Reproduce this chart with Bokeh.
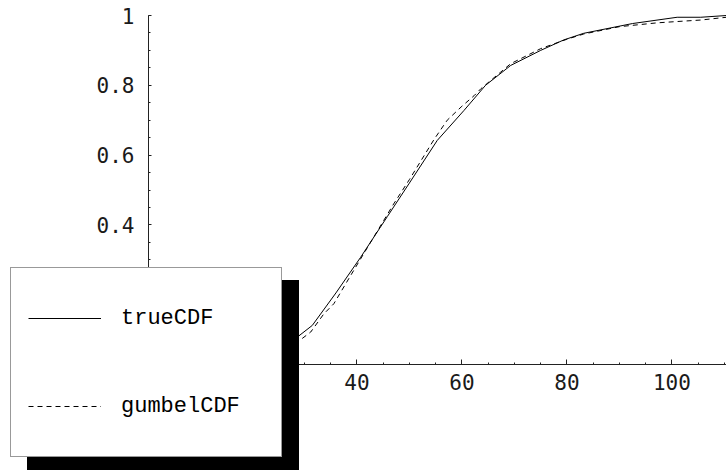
from bokeh.plotting import figure
from bokeh.models import Range1d, Legend, LegendItem, FixedTicker, CustomJSTickFormatter
from bokeh.embed import file_html
from bokeh.resources import INLINE

# ---- data ----
true_x = [25.0, 28.6, 31.5, 36.0, 40.7, 45.8, 50.0, 55.3, 60.4, 64.5, 69.3, 75.0, 79.4, 83.2, 92.5, 101.0, 105.5, 110.4]
true_y = [0.045, 0.078, 0.112, 0.205, 0.307, 0.424, 0.52, 0.642, 0.728, 0.80, 0.857, 0.90, 0.93, 0.949, 0.977, 0.995, 0.995, 1.0]

gum_x = [25.0, 29.0, 31.2, 33.7, 35.6, 40.0, 43.0, 47.0, 50.0, 54.7, 57.2, 60.0, 62.3, 63.6, 67.4, 69.3, 75.0, 80.0, 83.2, 90.0, 97.2, 102.3, 105.5, 110.4]
gum_y = [0.040, 0.068, 0.093, 0.145, 0.174, 0.285, 0.36, 0.46, 0.53, 0.645, 0.70, 0.74, 0.77, 0.79, 0.838, 0.862, 0.905, 0.932, 0.947, 0.968, 0.979, 0.984, 0.987, 0.995]

x_major = [20, 40, 60, 80, 100]
x_minor = [v for v in range(5, 111, 5)]
y_major = [0.2, 0.4, 0.6, 0.8, 1.0]
y_minor = [round(0.05 * i, 2) for i in range(1, 21)]

labels = ["trueCDF", "gumbelCDF"]

# axes cross at (x0, 0); the frame fills the whole canvas so the legend can sit over the axes
x0 = 0.3
p = figure(width=726, height=471, x_range=Range1d(-27.89, 110.4), y_range=Range1d(-0.3066, 1.043),
           output_backend="svg", toolbar_location=None,
           min_border_left=0, min_border_right=0, min_border_top=0, min_border_bottom=0)
p.outline_line_color = None
p.grid.visible = False
p.background_fill_color = "white"
p.border_fill_color = "white"

r1 = p.line(true_x, true_y, line_color="black", line_width=1)
r2 = p.line(gum_x, gum_y, line_color="black", line_width=1, line_dash="5 4")

tick_font = "DejaVu Sans Mono"
for ax in (p.xaxis[0], p.yaxis[0]):
    ax.axis_line_color = "#222222"
    ax.axis_line_width = 1
    ax.major_tick_line_color = "#222222"
    ax.minor_tick_line_color = "#222222"
    ax.major_tick_out = 0
    ax.minor_tick_out = 0
    ax.major_label_text_font = tick_font
    ax.major_label_text_font_size = "21px"
    ax.major_label_text_color = "#1a1a1a"

p.xaxis.fixed_location = 0
p.xaxis.bounds = (x0, 110.4)
p.xaxis.ticker = FixedTicker(ticks=x_major, minor_ticks=x_minor)
p.xaxis.major_tick_in = 5
p.xaxis.minor_tick_in = 2
p.xaxis.major_label_standoff = 10

p.yaxis.fixed_location = x0
p.yaxis.bounds = (0, 1)
p.yaxis.ticker = FixedTicker(ticks=y_major, minor_ticks=y_minor)
p.yaxis.major_tick_in = 3
p.yaxis.minor_tick_in = 2
p.yaxis.major_label_standoff = 14
p.yaxis.formatter = CustomJSTickFormatter(code="return Math.abs(tick - 1) < 1e-9 ? '1' : tick.toFixed(1);")

common = dict(padding=17, spacing=22, glyph_width=73, glyph_height=66, label_standoff=20,
              label_width=143, label_text_font="Liberation Mono", label_text_font_size="22px",
              border_line_width=1, background_fill_alpha=1, margin=0)

# drop shadow: an identical black box (blank labels) drawn first, offset down-right
shadow = Legend(items=[LegendItem(label=" ", renderers=[r1]), LegendItem(label=" ", renderers=[r2])],
                location=(27, 1), border_line_color="black", background_fill_color="black",
                label_text_color="black", **common)
legend = Legend(items=[LegendItem(label=labels[0], renderers=[r1]), LegendItem(label=labels[1], renderers=[r2])],
                location=(10, 14), border_line_color="#333333", background_fill_color="white",
                label_text_color="black", **common)
p.add_layout(shadow, "center")
p.add_layout(legend, "center")

open("out.html", "w").write(file_html(p, INLINE))
